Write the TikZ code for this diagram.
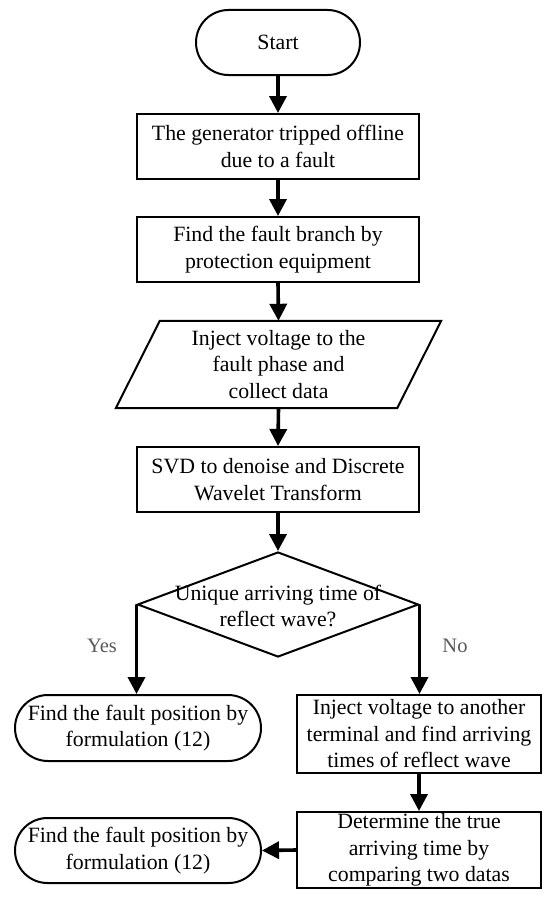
\documentclass[tikz,border=0pt]{standalone}
\usepackage{fontspec}
\setmainfont{Liberation Serif}
\usetikzlibrary{shapes.misc,shapes.geometric,arrows.meta}
\begin{document}
\begin{tikzpicture}[x=1pt,y=-1pt,
  every node/.style={font=\fontsize{21.8}{26.5}\selectfont, align=center, inner sep=0pt},
  boxst/.style={draw, line width=2pt, rectangle, minimum width=#1},
  stad/.style={draw, line width=2pt, rounded rectangle, rounded rectangle arc length=180, minimum width=#1},
  arr/.style={line width=3.6pt, -{Triangle[length=17pt,width=17pt]}},
  lbl/.style={text=black!65, font=\fontsize{20.5}{24}\selectfont}]
\useasboundingbox (0,0) rectangle (550,899);
\fill[white] (0,0) rectangle (550,899);

\node[stad=164, minimum height=65] (start) at (278,42.5) {Start};
\node[boxst=282, minimum height=65] (b1) at (278,146.5) {The generator tripped offline\\due to a fault};
\node[boxst=282, minimum height=65] (b2) at (278,249.5) {Find the fault branch by\\protection equipment};
\node[minimum width=325, minimum height=87] (p) at (278.5,364.5) {Inject voltage to the\\fault phase and\\collect data};
\draw[line width=2pt, line join=miter] ([xshift=44]p.south west |- p.north) -- (p.north east) -- ([xshift=-44]p.south east) -- (p.south west) -- cycle;
\node[boxst=282, minimum height=65] (b4) at (278,479.5) {SVD to denoise and Discrete\\Wavelet Transform};
\node[draw, line width=2pt, diamond, minimum width=281, minimum height=105] (d) at (278,604.5) {};
\node (dt) at (278,606) {Unique arriving time of\\reflect wave?};
\node[stad=246, minimum height=66] (f1) at (138,728) {Find the fault position by\\formulation (12)};
\node[boxst=244, minimum height=78] (r1) at (419,734) {Inject voltage to another\\terminal and find arriving\\times of reflect wave};
\node[boxst=244, minimum height=76] (r2) at (419,850) {Determine the true\\arriving time by\\comparing two datas};
\node[stad=246, minimum height=65] (f2) at (138,850.5) {Find the fault position by\\formulation (12)};

\node[lbl] (yes) at (102,646) {Yes};
\node[lbl] (no) at (455,646) {No};

\draw[arr] (start.south) -- (b1.north);
\draw[arr] (b1.south) -- (b2.north);
\draw[arr] (b2.south) -- (p.north);
\draw[arr] (p.south) -- (b4.north);
\draw[arr] (b4.south) -- (d.north);
\draw[arr] (d.west) -- (d.west |- f1.north);
\draw[arr] (d.east) -- (d.east |- r1.north);
\draw[arr] (r1.south) -- (r2.north);
\draw[arr] (r2.west) -- (f2.east);
\end{tikzpicture}
\end{document}
